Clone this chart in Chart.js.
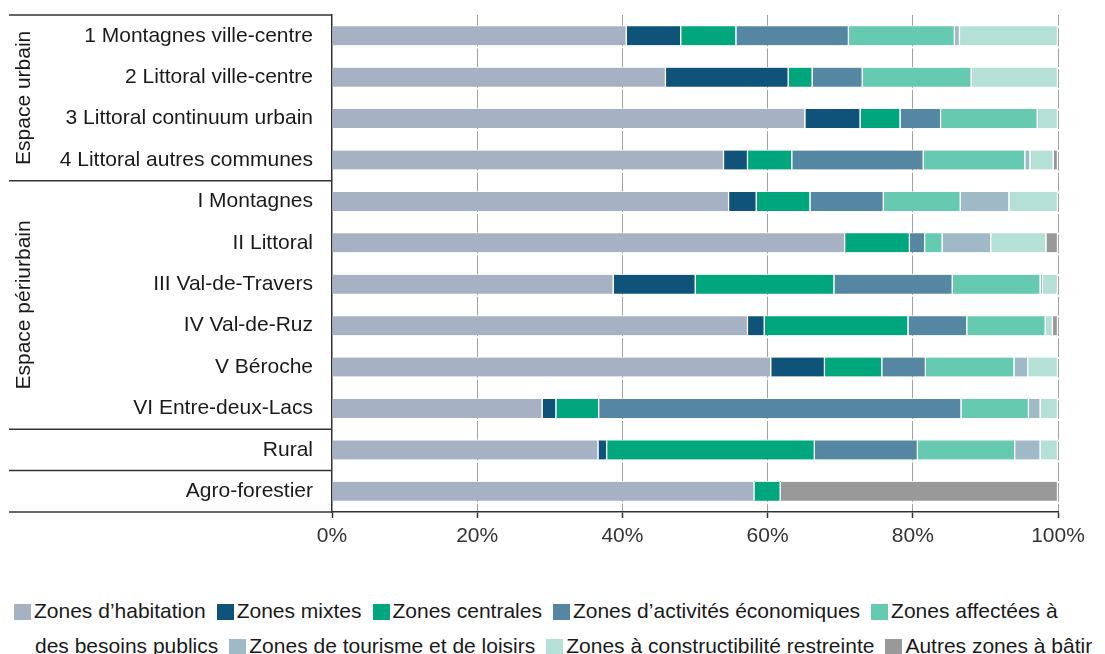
<!DOCTYPE html>
<html lang="fr">
<head>
<meta charset="UTF-8">
<title>Zones à bâtir par type d'espace</title>
<script src="https://cdn.jsdelivr.net/npm/chart.js"></script>
<style>
  body { margin: 0; background: #fff; font-family: "Liberation Sans", Arial, sans-serif; }
  #wrap { position: relative; width: 1105px; height: 560px; }
  #legend {
    margin-top: 33px;
    font-size: 21px;
    line-height: 35px;
    color: #1a1a1a;
    padding-left: 35px;
    text-indent: -21px;
    white-space: nowrap;
  }
  .sw { display: inline-block; width: 17px; height: 16px; margin-right: 3px; vertical-align: -2px; }
  .item { margin-right: 11px; }
</style>
</head>
<body>
<div id="wrap"><canvas id="chart"></canvas></div>
<div id="legend"></div>

<script>
// categories (rows, top to bottom)
const categories = [
  '1 Montagnes ville-centre', '2 Littoral ville-centre', '3 Littoral continuum urbain',
  '4 Littoral autres communes', 'I Montagnes', 'II Littoral', 'III Val-de-Travers',
  'IV Val-de-Ruz', 'V Béroche', 'VI Entre-deux-Lacs', 'Rural', 'Agro-forestier'
];
// groups on the left side
const groupLabels = ['Espace urbain', 'Espace périurbain', '', ''];
const groupSizes = [4, 6, 1, 1];

// shares in %
const habitation = [40.6, 46.0, 65.2, 54.0, 54.7, 70.7, 38.8, 57.3, 60.5, 29.0, 36.7, 58.2];
const mixtes     = [7.5, 16.9, 7.6, 3.3, 3.8, 0, 11.3, 2.3, 7.4, 1.9, 1.2, 0];
const centrales  = [7.6, 3.3, 5.5, 6.1, 7.4, 8.9, 19.1, 19.8, 7.9, 5.9, 28.6, 3.6];
const activites  = [15.5, 6.9, 5.6, 18.1, 10.1, 2.1, 16.3, 8.1, 6.0, 49.9, 14.2, 0];
const publics    = [14.6, 15.0, 13.3, 14.0, 10.6, 2.4, 12.1, 10.8, 12.2, 9.3, 13.4, 0];
const tourisme   = [0.7, 0.2, 0, 0.7, 6.7, 6.7, 0.3, 0, 1.9, 1.6, 3.5, 0];
const restreinte = [13.5, 11.7, 2.8, 3.2, 6.7, 7.6, 2.1, 1.0, 4.1, 2.4, 2.4, 0];
const autres     = [0, 0, 0, 0.6, 0, 1.6, 0, 0.7, 0, 0, 0, 38.2];

const seriesLabels = [
  'Zones d\u2019habitation', 'Zones mixtes', 'Zones centrales', 'Zones d\u2019activités économiques',
  'Zones affectées à des besoins publics', 'Zones de tourisme et de loisirs',
  'Zones à constructibilité restreinte', 'Autres zones à bâtir'
];
const seriesData = [habitation, mixtes, centrales, activites, publics, tourisme, restreinte, autres];
const colors = ['#a7b1c4', '#10537a', '#00a67c', '#5587a3', '#66cab0', '#a0b9c7', '#b5e0d5', '#999999'];

const xTicks = [0, 20, 40, 60, 80, 100];

const FONT = '"Liberation Sans", Arial, sans-serif';

// horizontal separators + rotated group names left of the axis
const groupPlugin = {
  id: 'groups',
  afterDraw(chart) {
    const ctx = chart.ctx;
    const y = chart.scales.y;
    const area = chart.chartArea;
    const step = y.getPixelForValue(1) - y.getPixelForValue(0);
    ctx.save();
    ctx.strokeStyle = '#333';
    ctx.lineWidth = 1.5;
    ctx.beginPath();
    ctx.moveTo(9, area.top);
    ctx.lineTo(area.left, area.top);
    ctx.stroke();
    let start = 0;
    groupSizes.forEach((n, g) => {
      const top = y.getPixelForValue(start) - step / 2;
      const bottom = y.getPixelForValue(start + n - 1) + step / 2;
      ctx.beginPath();
      ctx.moveTo(9, bottom);
      ctx.lineTo(area.left, bottom);
      ctx.stroke();
      if (groupLabels[g]) {
        ctx.save();
        ctx.translate(24, (top + bottom) / 2);
        ctx.rotate(-Math.PI / 2);
        ctx.fillStyle = '#1a1a1a';
        ctx.font = '21px ' + FONT;
        ctx.textAlign = 'center';
        ctx.textBaseline = 'middle';
        ctx.fillText(groupLabels[g], 0, 0);
        ctx.restore();
      }
      start += n;
    });
    ctx.restore();
  }
};

new Chart(document.getElementById('chart'), {
  type: 'bar',
  data: {
    labels: categories,
    datasets: seriesData.map((d, i) => ({
      label: seriesLabels[i],
      data: d,
      backgroundColor: colors[i],
      borderColor: '#ffffff',
      borderWidth: { left: 0, right: 1.5, top: 0, bottom: 0 },
      borderSkipped: false,
      barThickness: 19
    }))
  },
  options: {
    indexAxis: 'y',
    responsive: true,
    maintainAspectRatio: false,
    animation: false,
    layout: { padding: { top: 15, right: 47, left: 0, bottom: 0 } },
    plugins: {
      legend: { display: false },
      tooltip: { enabled: false }
    },
    scales: {
      x: {
        stacked: true,
        min: 0,
        max: 100,
        z: 1,
        afterBuildTicks: (s) => { s.ticks = xTicks.map(v => ({ value: v })); },
        afterFit: (s) => { s.height = 48; },
        ticks: {
          padding: 6,
          color: '#333',
          font: { family: FONT, size: 21 },
          callback: (v) => v + '%'
        },
        grid: {
          color: (c) => c.tick && c.tick.value === 0 ? 'rgba(0,0,0,0)' : 'rgba(70,70,70,0.5)',
          lineWidth: 1,
          tickColor: '#333',
          tickLength: 6,
          tickWidth: 1.5
        },
        border: { display: true, color: '#333', width: 1.5, dash: [18.7, 2], dashOffset: 8 }
      },
      y: {
        stacked: true,
        afterFit: (s) => { s.width = 332; s.paddingTop = 0; s.paddingBottom = 0; },
        ticks: {
          padding: 19,
          color: '#1a1a1a',
          font: { family: FONT, size: 21 }
        },
        grid: { display: false, drawTicks: false },
        border: { display: true, color: '#333', width: 1.5 }
      }
    }
  },
  plugins: [groupPlugin]
});

// legend as flowing text, wrapped like the original
let html = '';
seriesLabels.forEach((lab, i) => {
  html += '<span class="item"><span class="sw" style="background:' + colors[i] + '"></span>' +
    lab.replace('à des', 'à<br>des') + '</span>';
});
document.getElementById('legend').innerHTML = html;
</script>
</body>
</html>
